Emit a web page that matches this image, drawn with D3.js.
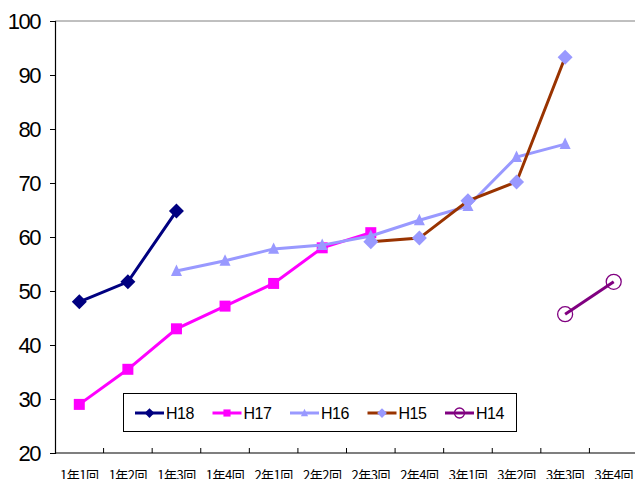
<!DOCTYPE html>
<html>
<head>
<meta charset="utf-8">
<script src="https://cdn.jsdelivr.net/npm/d3@7"></script>
<style>
  html, body { margin: 0; padding: 0; background: #fff; }
  svg { display: block; }
</style>
</head>
<body>
<svg id="chart" width="635" height="479"></svg>
<script>
// Categories along the x axis (year / round)
const categories = ["1年1回", "1年2回", "1年3回", "1年4回", "2年1回", "2年2回",
                    "2年3回", "2年4回", "3年1回", "3年2回", "3年3回", "3年4回"];
const yTicks = [20, 30, 40, 50, 60, 70, 80, 90, 100];

// Series values: each entry is [category index, value]
const h18 = [[0, 48.0], [1, 51.7], [2, 64.8]];
const h17 = [[0, 29.0], [1, 35.5], [2, 43.0], [3, 47.2], [4, 51.4], [5, 58.0], [6, 60.8]];
const h16 = [[2, 53.7], [3, 55.6], [4, 57.8], [5, 58.5], [6, 60.2], [7, 63.1], [8, 65.7], [9, 74.8], [10, 77.2]];
const h15 = [[6, 59.1], [7, 59.8], [8, 66.7], [9, 70.2], [10, 93.3]];
const h14 = [[10, 45.7], [11, 51.7]];

const seriesNames = ["H18", "H17", "H16", "H15", "H14"];
const seriesData = [h18, h17, h16, h15, h14];
const styles = [
  { line: "#000080", fill: "#000080", stroke: "none", shape: "diamond", size: 15 },
  { line: "#FF00FF", fill: "#FF00FF", stroke: "none", shape: "square", size: 11 },
  { line: "#9999FF", fill: "#9999FF", stroke: "none", shape: "triangle", size: 13 },
  { line: "#993300", fill: "#9999FF", stroke: "none", shape: "diamond", size: 15 },
  { line: "#800080", fill: "none", stroke: "#800080", shape: "circle", size: 15 }
];

const svg = d3.select("#chart");
const plotLeft = 55, plotRight = 638, plotTop = 21, plotBottom = 453;

const x = d3.scaleBand().domain(categories).range([plotLeft, plotRight]);
const y = d3.scaleLinear().domain([20, 100]).range([plotBottom, plotTop]);
const cx = i => x(categories[i]) + x.bandwidth() / 2;

// Plot border (top edge is visible)
svg.append("line").attr("x1", plotLeft).attr("x2", plotRight).attr("y1", plotTop).attr("y2", plotTop)
  .attr("stroke", "#808080").attr("stroke-width", 1);

// Y axis
const yAxis = svg.append("g").attr("transform", `translate(${plotLeft},0)`)
  .call(d3.axisLeft(y).tickValues(yTicks).tickSize(5).tickPadding(8));
yAxis.select(".domain").attr("stroke", "#000").attr("stroke-width", 1.2);
yAxis.selectAll(".tick line").attr("stroke", "#000");
yAxis.selectAll(".tick text")
  .attr("font-family", "'Liberation Sans', Arial, sans-serif")
  .attr("font-size", 22).attr("letter-spacing", "-1.5px").attr("fill", "#000")
  .attr("dx", "-2");

// X axis: ticks between categories, pointing inward
const xAxis = svg.append("g").attr("transform", `translate(0,${plotBottom})`);
xAxis.append("line").attr("x1", plotLeft).attr("x2", plotRight).attr("y1", 0).attr("y2", 0)
  .attr("stroke", "#000").attr("stroke-width", 1.2);
xAxis.selectAll("line.tk").data(categories.slice(1)).join("line").attr("class", "tk")
  .attr("x1", d => x(d)).attr("x2", d => x(d)).attr("y1", 0).attr("y2", -5)
  .attr("stroke", "#000");
xAxis.selectAll("text").data(categories).join("text")
  .attr("x", d => x(d) + x.bandwidth() / 2).attr("y", 27)
  .attr("text-anchor", "middle")
  .attr("font-family", "'Noto Sans CJK JP', sans-serif")
  .attr("font-size", 13).attr("letter-spacing", "-0.5px").attr("fill", "#000")
  .text(d => d);

function symbolPath(shape, size) {
  const s = size / 2;
  if (shape === "diamond") return `M0,${-s}L${s},0L0,${s}L${-s},0Z`;
  if (shape === "square") return `M${-s},${-s}H${s}V${s}H${-s}Z`;
  if (shape === "triangle") return `M0,${-s}L${s * 0.85},${s * 0.75}L${-s * 0.85},${s * 0.75}Z`;
  return null;
}

function drawMarker(g, st, px, py, size) {
  if (st.shape === "circle") {
    g.append("circle").attr("cx", px).attr("cy", py).attr("r", size / 2)
      .attr("fill", "none").attr("stroke", st.stroke).attr("stroke-width", 1.3);
  } else {
    g.append("path").attr("d", symbolPath(st.shape, size))
      .attr("transform", `translate(${px},${py})`).attr("fill", st.fill);
  }
}

const line = d3.line().x(d => cx(d[0])).y(d => y(d[1]));

seriesData.forEach((data, k) => {
  const st = styles[k];
  const g = svg.append("g");
  g.append("path").datum(data).attr("d", line)
    .attr("fill", "none").attr("stroke", st.line).attr("stroke-width", 3);
  data.forEach(d => drawMarker(g, st, cx(d[0]), y(d[1]), st.size));
});

// Legend
const lg = svg.append("g");
lg.append("rect").attr("x", 123.5).attr("y", 393.5).attr("width", 393).attr("height", 38)
  .attr("fill", "#fff").attr("stroke", "#000").attr("stroke-width", 1);
seriesNames.forEach((name, k) => {
  const st = styles[k];
  const x0 = 135 + k * 77.5, ly = 413;
  lg.append("line").attr("x1", x0).attr("x2", x0 + 29).attr("y1", ly).attr("y2", ly)
    .attr("stroke", st.line).attr("stroke-width", 3);
  drawMarker(lg, st, x0 + 14.5, ly, st.shape === "circle" ? 10 : st.size * 0.65);
  lg.append("text").attr("x", x0 + 31).attr("y", ly + 6)
    .attr("font-family", "'Liberation Sans', Arial, sans-serif")
    .attr("font-size", 16).attr("letter-spacing", "-0.5px").attr("fill", "#000")
    .text(name);
});
</script>
</body>
</html>
